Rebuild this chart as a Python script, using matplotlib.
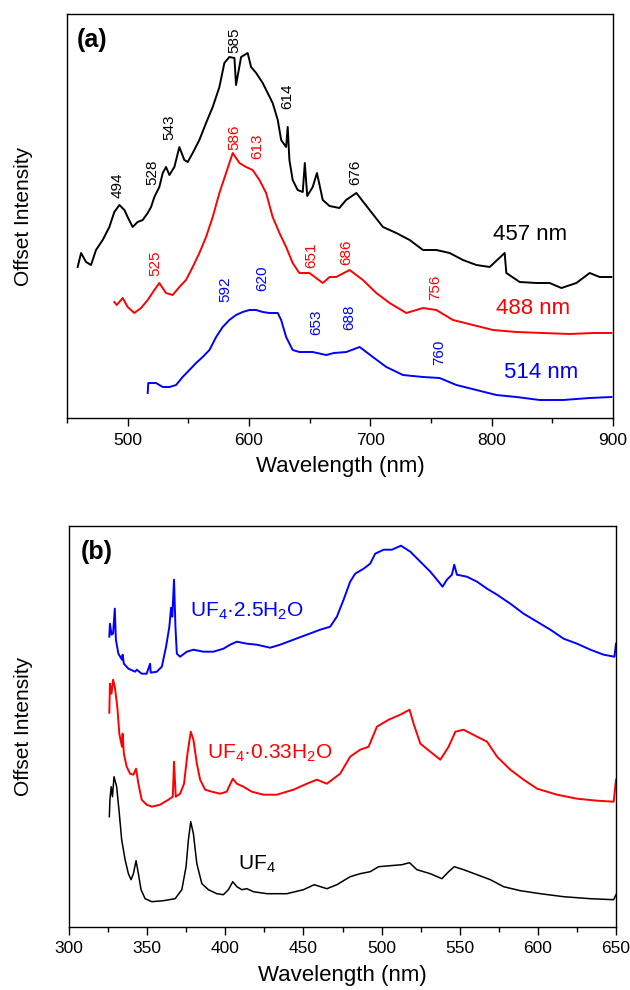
import matplotlib
matplotlib.use("Agg")
import matplotlib.pyplot as plt
from matplotlib.ticker import MultipleLocator

plt.rcParams['font.family'] = ['Liberation Sans', 'DejaVu Sans']
plt.rcParams['mathtext.fontset'] = 'custom'
plt.rcParams['mathtext.rm'] = 'Liberation Sans'
plt.rcParams['mathtext.default'] = 'regular'

# ---- panel (a): excitation at 457 / 488 / 514 nm (offset, arbitrary units)
wl_457 = [458.8, 461.6, 465.7, 469.8, 473.9, 479.4, 484.9, 489.0, 493.2, 497.3,
          500.0, 504.1, 508.2, 512.4, 516.5, 519.3, 522.0, 526.1, 528.9, 531.6,
          534.4, 538.5, 542.6, 546.7, 549.5, 553.6, 559.1, 564.6, 570.1, 575.6,
          579.7, 583.8, 588.0, 589.3, 593.5, 598.9, 601.7, 605.9, 611.3, 615.4,
          619.5, 623.7, 626.5, 630.6, 631.9, 633.3, 636.0, 640.1, 644.3, 646.0,
          648.0, 652.5, 656.0, 660.8, 666.4, 674.5, 680.0, 688.5, 699.4, 710.4,
          721.4, 732.4, 743.4, 754.4, 765.4, 776.3, 787.4, 798.4, 810.7, 812.1,
          823.1, 836.9, 847.8, 857.5, 869.8, 880.8, 889.0, 898.7]
int_457 = [151, 165, 156, 153, 168, 178, 191, 206, 213, 208,
           201, 191, 196, 198, 205, 211, 221, 231, 245, 251,
           243, 251, 271, 258, 256, 265, 278, 295, 311, 331,
           355, 361, 360, 333, 361, 365, 351, 345, 335, 325,
           315, 298, 278, 271, 291, 258, 238, 228, 226, 255,
           222, 231, 245, 218, 212, 210, 218, 225, 208, 191,
           185, 178, 168, 168, 165, 158, 153, 151, 165, 145,
           136, 135, 135, 130, 135, 145, 141, 141]

wl_488 = [489.0, 491.0, 495.9, 500.0, 505.5, 511.0, 516.5, 522.0, 526.1, 531.6,
          537.1, 542.6, 548.1, 553.6, 559.1, 564.6, 570.1, 575.6, 581.1, 586.6,
          592.1, 597.6, 603.0, 608.6, 614.1, 619.5, 625.1, 630.6, 636.0, 641.5,
          649.8, 660.8, 666.4, 671.8, 682.9, 693.9, 704.9, 715.9, 729.7, 743.4,
          754.4, 768.1, 784.6, 801.1, 820.4, 842.3, 864.3, 883.5, 898.7]
int_488 = [116, 113, 120, 111, 105, 110, 118, 128, 135, 125,
           123, 131, 138, 151, 165, 181, 201, 225, 245, 265,
           255, 251, 248, 238, 225, 201, 185, 171, 155, 145,
           145, 135, 141, 141, 148, 138, 125, 115, 105, 110,
           108, 98, 93, 88, 86, 85, 84, 85, 85]

wl_514 = [516.5, 517.0, 523.4, 528.9, 534.4, 539.9, 545.3, 550.9, 556.4, 561.8,
          567.4, 572.9, 578.3, 583.8, 589.3, 594.8, 600.3, 605.9, 611.3, 616.8,
          623.7, 626.5, 630.6, 636.0, 641.5, 652.5, 663.6, 670.0, 680.2, 691.2,
          702.1, 713.2, 726.9, 743.4, 757.1, 770.9, 787.4, 803.9, 820.4, 839.6,
          858.8, 880.8, 898.7]
int_514 = [25, 35, 35, 31, 31, 33, 41, 48, 55, 61,
           68, 81, 91, 98, 103, 106, 108, 108, 106, 105,
           105, 98, 81, 68, 66, 66, 63, 65, 66, 71,
           61, 51, 43, 41, 40, 33, 28, 23, 21, 18,
           18, 20, 21]

# peak labels (value, label x, label y)
peaks_457 = [494, 528, 543, 585, 614, 676]
peaks_457_x = [491.8, 520.1, 534.4, 588.0, 631.4, 687.9]
peaks_457_y = [233, 246, 291, 378, 322, 246]
peaks_488 = [525, 586, 613, 651, 686, 756]
peaks_488_x = [522.6, 588.0, 607.2, 651.2, 680.2, 753.8]
peaks_488_y = [155, 281, 272, 163, 166, 131]
peaks_514 = [592, 620, 653, 688, 760]
peaks_514_x = [580.3, 611.3, 655.3, 682.9, 757.1]
peaks_514_y = [129, 140, 96, 101, 66]

# ---- panel (b): UF4 hydrates
wl_uf4 = [325.8, 326.2, 327.0, 327.8, 328.8, 330.5, 332.2, 333.7, 335.9, 338.0,
          339.7, 341.2, 342.9, 344.4, 346.1, 348.7, 353.0, 360.4, 367.9, 372.2,
          374.9, 376.4, 377.9, 379.6, 381.8, 385.0, 389.2, 394.6, 398.8, 402.0,
          404.8, 407.4, 410.6, 413.8, 418.0, 426.6, 439.4, 450.0, 456.9, 465.0,
          471.4, 479.9, 486.3, 492.7, 498.1, 505.5, 513.0, 517.9, 522.6, 531.2,
          538.6, 542.9, 546.5, 552.5, 561.1, 569.6, 578.1, 588.8, 601.6, 616.5,
          633.6, 648.5, 650.0]
int_uf4 = [110, 127, 140, 130, 150, 140, 113, 87, 67, 53,
           47, 53, 66, 53, 37, 28, 25, 26, 28, 37,
           60, 87, 105, 93, 63, 43, 37, 33, 32, 37,
           45, 40, 37, 38, 35, 33, 33, 37, 42, 38,
           42, 50, 53, 55, 60, 61, 62, 64, 57, 53,
           48, 55, 60, 57, 52, 47, 40, 36, 33, 30,
           28, 27, 32]

wl_033 = [325.8, 326.2, 327.2, 328.2, 329.3, 330.9, 332.2, 333.9, 334.3, 335.1,
          336.9, 339.1, 341.2, 342.9, 344.4, 346.5, 349.7, 353.0, 358.3, 363.6,
          366.4, 367.2, 368.3, 371.1, 373.6, 375.8, 377.9, 379.6, 381.8, 383.9,
          387.1, 391.4, 396.7, 400.9, 404.8, 407.4, 411.6, 417.0, 424.4, 433.0,
          443.6, 452.2, 458.6, 465.0, 473.5, 479.9, 486.3, 491.7, 497.0, 504.5,
          512.0, 517.9, 520.5, 524.8, 531.2, 537.6, 542.9, 547.2, 552.5, 561.1,
          567.5, 573.9, 582.4, 590.9, 599.5, 612.3, 625.1, 637.9, 648.5, 650.0]
int_033 = [214, 243, 233, 247, 240, 220, 193, 180, 193, 173,
           160, 153, 152, 158, 143, 127, 122, 120, 122, 127,
           130, 165, 130, 133, 143, 173, 195, 187, 163, 147,
           137, 135, 133, 135, 148, 143, 140, 135, 132, 132,
           137, 143, 147, 143, 153, 170, 177, 180, 200, 207,
           212, 217, 203, 183, 175, 167, 180, 195, 197, 190,
           185, 170, 157, 147, 138, 132, 128, 126, 125, 147]

wl_25 = [325.8, 326.2, 327.2, 328.2, 329.3, 330.0, 331.6, 333.9, 334.3, 335.1,
         338.0, 342.3, 343.4, 346.5, 349.7, 351.9, 352.3, 356.2, 359.4, 362.1,
         364.2, 365.3, 366.1, 367.2, 368.1, 369.0, 371.1, 375.4, 379.6, 386.0,
         392.4, 398.8, 403.1, 407.4, 413.8, 420.2, 428.7, 435.1, 443.6, 452.2,
         460.7, 467.1, 471.4, 475.7, 479.9, 483.1, 488.5, 492.7, 495.9, 501.3,
         506.6, 512.4, 518.4, 524.8, 531.2, 536.5, 539.0, 541.8, 545.0, 546.5,
         548.2, 554.6, 561.1, 567.5, 573.9, 582.4, 590.9, 599.5, 608.0, 616.5,
         625.1, 633.6, 642.1, 649.0, 650.0]
int_25 = [290, 303, 292, 293, 318, 287, 273, 267, 272, 263,
          258, 255, 257, 253, 253, 263, 254, 255, 260, 280,
          300, 319, 310, 347, 300, 273, 270, 275, 277, 275,
          275, 278, 282, 285, 283, 282, 279, 282, 287, 292,
          297, 300, 310, 327, 345, 353, 358, 363, 373, 377,
          377, 381, 375, 365, 355, 345, 340, 347, 352, 362,
          352, 350, 345, 338, 332, 323, 313, 305, 297, 288,
          283, 277, 272, 270, 283]

fig = plt.figure(figsize=(6.3, 9.9), dpi=100)
ax1 = fig.add_axes([67/630, 572/990, 546/630, 404/990])
ax2 = fig.add_axes([69/630, 63.3/990, 547/630, 400.7/990])

# panel (a)
ax1.plot(wl_457, int_457, color='black', lw=1.4)
ax1.plot(wl_488, int_488, color='red', lw=1.4)
ax1.plot(wl_514, int_514, color='blue', lw=1.4)

for vals, xs, ys, c in [(peaks_457, peaks_457_x, peaks_457_y, 'black'),
                        (peaks_488, peaks_488_x, peaks_488_y, 'red'),
                        (peaks_514, peaks_514_x, peaks_514_y, 'blue')]:
    for v, x, y in zip(vals, xs, ys):
        ax1.text(x, y, str(v), rotation=90, ha='center', va='center',
                 fontsize=11, color=c)

ax1.text(831.5, 183, '457 nm', ha='center', va='center', fontsize=16, color='black')
ax1.text(834.2, 110, '488 nm', ha='center', va='center', fontsize=16, color='red')
ax1.text(841.1, 45, '514 nm', ha='center', va='center', fontsize=16, color='blue')
ax1.text(0.018, 0.936, '(a)', transform=ax1.transAxes, fontsize=18,
         fontweight='bold', ha='left', va='center')

ax1.set_xlim(450, 900)
ax1.set_ylim(0, 404)

# panel (b)
ax2.plot(wl_uf4, int_uf4, color='black', lw=1.1)
ax2.plot(wl_033, int_033, color='red', lw=1.4)
ax2.plot(wl_25, int_25, color='blue', lw=1.4)

ax2.text(377.5, 310, r'UF$_4$·2.5H$_2$O', color='blue', fontsize=15, va='baseline')
ax2.text(388.2, 168.4, r'UF$_4$·0.33H$_2$O', color='red', fontsize=15, va='baseline')
ax2.text(408.4, 56.7, r'UF$_4$', color='black', fontsize=15, va='baseline')
ax2.text(0.021, 0.934, '(b)', transform=ax2.transAxes, fontsize=18,
         fontweight='bold', ha='left', va='center')

ax2.set_xlim(300, 650)
ax2.set_ylim(0, 400.7)

for ax, maj, mnr in [(ax1, 100, 50), (ax2, 50, 25)]:
    ax.xaxis.set_major_locator(MultipleLocator(maj))
    ax.xaxis.set_minor_locator(MultipleLocator(mnr))
    ax.tick_params(axis='x', which='major', direction='out', length=5.5,
                   width=1, labelsize=12.5, pad=5)
    ax.tick_params(axis='x', which='minor', direction='out', length=3.5, width=1)
    ax.tick_params(axis='y', which='both', left=False, labelleft=False)
    for s in ax.spines.values():
        s.set_linewidth(1.0)
    ax.set_xlabel('Wavelength (nm)', fontsize=16, labelpad=6)
    ax.set_ylabel('Offset Intensity', fontsize=15)

ax1.yaxis.set_label_coords(-34/546, 0.5)
ax2.yaxis.set_label_coords(-36/547, 0.5)

fig.savefig('out.png', dpi=100)
